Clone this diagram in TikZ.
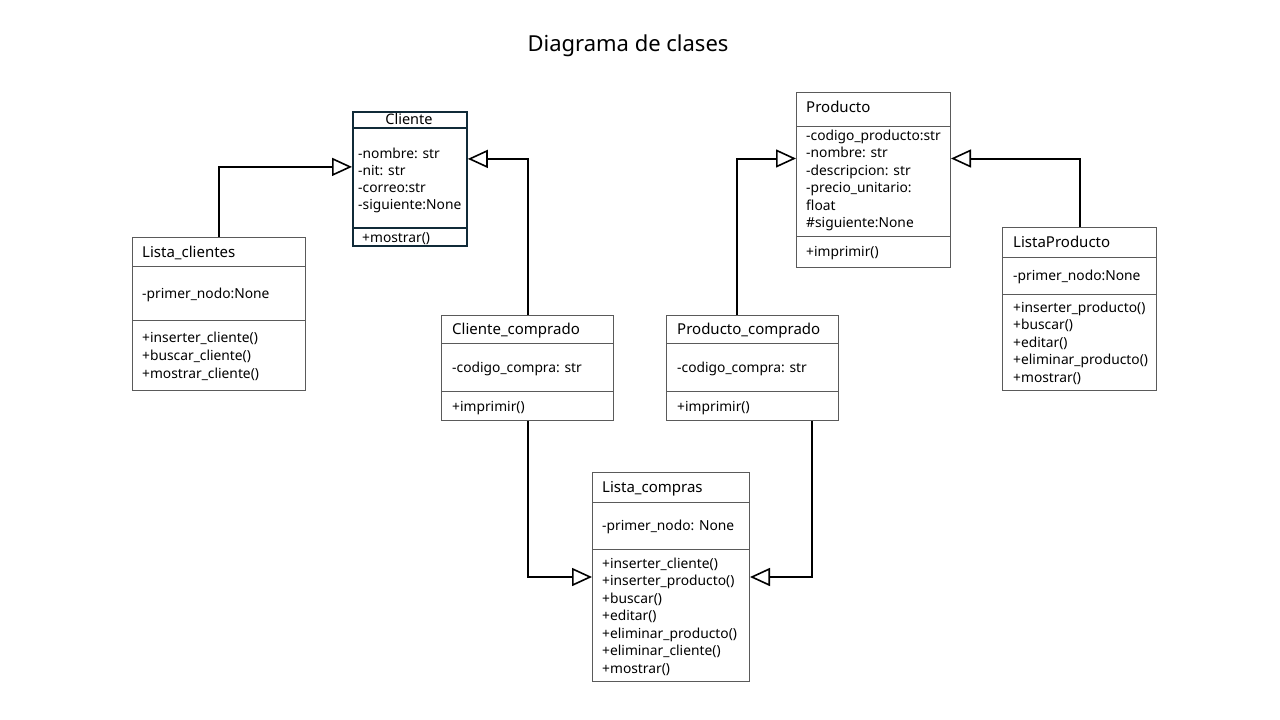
\documentclass[tikz,border=0pt]{standalone}
\usepackage{fontspec}
\setmainfont{Noto Sans}
\usetikzlibrary{arrows.meta}
\definecolor{boxgray}{HTML}{5A5A5A}
\definecolor{navy}{HTML}{102A38}
\begin{document}
\begin{tikzpicture}[x=1pt,y=-1pt,
  box/.style={draw=boxgray,line width=1pt,anchor=north west,inner sep=0pt},
  navybox/.style={draw=navy,line width=1.8pt,anchor=north west,inner sep=0pt},
  sep/.style={draw=boxgray,line width=1pt},
  navysep/.style={draw=navy,line width=1.5pt},
  txt/.style={anchor=west,inner sep=0pt,yshift=-2pt,text height=11pt,text depth=3.5pt,font=\fontsize{15}{17}\selectfont},
  stxt/.style={anchor=west,inner sep=0pt,yshift=-1.5pt,text height=10pt,text depth=3pt,font=\fontsize{13.8}{16}\selectfont},
  inh/.style={line width=2pt,-{Triangle[open,length=20pt,width=18pt,line width=1.6pt,fill=white]}}
]
\useasboundingbox (0,0) rectangle (1280,720);
\fill[white] (0,0) rectangle (1280,720);

\node[inner sep=0pt,font=\fontsize{22}{26}\selectfont] (title) at (628,46) {Diagrama de clases};

% Cliente
\node[navybox,minimum width=114pt,minimum height=134pt] (cli) at (352,111) {};
\draw[navysep] (352,128) -- (466,128);
\draw[navysep] (352,228) -- (466,228);
\node[inner sep=0pt,yshift=-1pt,text height=10.5pt,text depth=3pt,font=\fontsize{14.5}{16}\selectfont] (cli-t) at (409,119.5) {Cliente};
\node[stxt] (cli-a1) at (358,153) {-nombre: str};
\node[stxt] (cli-a2) at (358,170) {-nit: str};
\node[stxt] (cli-a3) at (358,187) {-correo:str};
\node[stxt] (cli-a4) at (358,204) {-siguiente:None};
\node[stxt] (cli-m1) at (362,237) {+mostrar()};

% Producto
\node[box,minimum width=154pt,minimum height=175pt] (prod) at (796,92) {};
\draw[sep] (796,126) -- (950,126);
\draw[sep] (796,236) -- (950,236);
\node[txt] (prod-t) at (806,107) {Producto};
\node[stxt] (prod-a1) at (806,135) {-codigo\_producto:str};
\node[stxt] (prod-a2) at (806,152.5) {-nombre: str};
\node[stxt] (prod-a3) at (806,170) {-descripcion: str};
\node[stxt] (prod-a4) at (806,187.5) {-precio\_unitario:};
\node[stxt] (prod-a5) at (806,205) {float};
\node[stxt] (prod-a6) at (806,222.5) {\#siguiente:None};
\node[stxt] (prod-m1) at (806,251) {+imprimir()};

% Lista_clientes
\node[box,minimum width=173pt,minimum height=153pt] (lcli) at (132,237) {};
\draw[sep] (132,266) -- (305,266);
\draw[sep] (132,320) -- (305,320);
\node[txt] (lcli-t) at (142,252) {Lista\_clientes};
\node[stxt] (lcli-a1) at (142,293) {-primer\_nodo:None};
\node[stxt] (lcli-m1) at (142,337) {+inserter\_cliente()};
\node[stxt] (lcli-m2) at (142,355) {+buscar\_cliente()};
\node[stxt] (lcli-m3) at (142,373) {+mostrar\_cliente()};

% Cliente_comprado
\node[box,minimum width=172pt,minimum height=105pt] (clic) at (441,315) {};
\draw[sep] (441,343) -- (613,343);
\draw[sep] (441,391) -- (613,391);
\node[txt] (clic-t) at (452,329) {Cliente\_comprado};
\node[stxt] (clic-a1) at (452,367) {-codigo\_compra: str};
\node[stxt] (clic-m1) at (452,406) {+imprimir()};

% Producto_comprado
\node[box,minimum width=172pt,minimum height=105pt] (prodc) at (666,315) {};
\draw[sep] (666,343) -- (838,343);
\draw[sep] (666,391) -- (838,391);
\node[txt] (prodc-t) at (677,329) {Producto\_comprado};
\node[stxt] (prodc-a1) at (677,367) {-codigo\_compra: str};
\node[stxt] (prodc-m1) at (677,406) {+imprimir()};

% ListaProducto
\node[box,minimum width=154pt,minimum height=163pt] (lprod) at (1002,227) {};
\draw[sep] (1002,257) -- (1156,257);
\draw[sep] (1002,294) -- (1156,294);
\node[txt] (lprod-t) at (1013,242) {ListaProducto};
\node[stxt] (lprod-a1) at (1013,275) {-primer\_nodo:None};
\node[stxt] (lprod-m1) at (1013,307) {+inserter\_producto()};
\node[stxt] (lprod-m2) at (1013,324.5) {+buscar()};
\node[stxt] (lprod-m3) at (1013,342) {+editar()};
\node[stxt] (lprod-m4) at (1013,359.5) {+eliminar\_producto()};
\node[stxt] (lprod-m5) at (1013,377) {+mostrar()};

% Lista_compras
\node[box,minimum width=157pt,minimum height=209pt] (lcomp) at (592,472) {};
\draw[sep] (592,502) -- (749,502);
\draw[sep] (592,549) -- (749,549);
\node[txt] (lcomp-t) at (602,487) {Lista\_compras};
\node[stxt] (lcomp-a1) at (602,525) {-primer\_nodo: None};
\node[stxt] (lcomp-m1) at (602,563) {+inserter\_cliente()};
\node[stxt] (lcomp-m2) at (602,580.5) {+inserter\_producto()};
\node[stxt] (lcomp-m3) at (602,598) {+buscar()};
\node[stxt] (lcomp-m4) at (602,615.5) {+editar()};
\node[stxt] (lcomp-m5) at (602,633) {+eliminar\_producto()};
\node[stxt] (lcomp-m6) at (602,650.5) {+eliminar\_cliente()};
\node[stxt] (lcomp-m7) at (602,668) {+mostrar()};

% Connectors
\draw[inh] (lcli.north) |- ([yshift=12pt]cli.west);
\draw[inh] (clic.north) |- ([yshift=20pt]cli.east);
\draw[inh] ([xshift=-16pt]prodc.north) |- ([yshift=21.5pt]prod.west);
\draw[inh] (lprod.north) |- ([yshift=21.5pt]prod.east);
\draw[inh] (clic.south) |- (lcomp.west);
\draw[inh] ([xshift=59pt]prodc.south) |- (lcomp.east);
\end{tikzpicture}
\end{document}
